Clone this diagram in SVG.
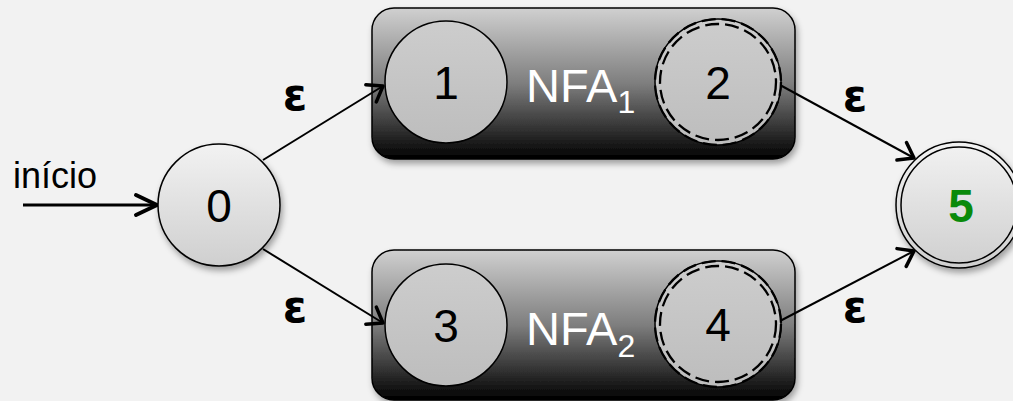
<svg xmlns="http://www.w3.org/2000/svg" width="1013" height="401" viewBox="0 0 1013 401">
  <defs>
    <linearGradient id="boxFill" x1="0" y1="0" x2="0" y2="1">
      <stop offset="0" stop-color="#d0d0d0"/>
      <stop offset="0.5" stop-color="#7e7e7e"/>
      <stop offset="1" stop-color="#000000"/>
    </linearGradient>
    <linearGradient id="outerState" x1="0" y1="0" x2="0" y2="1">
      <stop offset="0" stop-color="#f2f2f2"/>
      <stop offset="1" stop-color="#cfcfcf"/>
    </linearGradient>
    <linearGradient id="innerState" x1="0" y1="0" x2="0" y2="1">
      <stop offset="0" stop-color="#cdcdcd"/>
      <stop offset="1" stop-color="#bdbdbd"/>
    </linearGradient>
    <filter id="shadow" x="-20%" y="-20%" width="140%" height="150%">
      <feDropShadow dx="2" dy="4" stdDeviation="3" flood-color="#000" flood-opacity="0.35"/>
    </filter>
    <marker id="chev" markerUnits="userSpaceOnUse" orient="auto" viewBox="-20 -14 24 28" refX="0" refY="0" markerWidth="24" markerHeight="28" overflow="visible">
      <path d="M -14 -10 L 0 0 L -14 10" fill="none" stroke="#000" stroke-width="3.5" stroke-linecap="round" stroke-linejoin="round"/>
    </marker>
    <marker id="chevStart" markerUnits="userSpaceOnUse" orient="auto" viewBox="-26 -14 30 28" refX="0" refY="0" markerWidth="30" markerHeight="28" overflow="visible">
      <path d="M -21 -10 L 0 0 L -21 10" fill="none" stroke="#000" stroke-width="4" stroke-linecap="round" stroke-linejoin="round"/>
    </marker>
  </defs>
  <style>
    .box { fill: url(#boxFill); stroke: #000; stroke-width: 1.5; filter: url(#shadow); }
    .outer { fill: url(#outerState); stroke: #000; stroke-width: 1.5; filter: url(#shadow); }
    .inner { fill: url(#innerState); stroke: #000; stroke-width: 1.5; }
    .dash { fill: none; stroke: #000; stroke-width: 2.3; stroke-dasharray: 14 6; }
    .ring { fill: none; stroke: #000; stroke-width: 1.5; }
    .num { font-family: "Liberation Sans", Arial, sans-serif; font-size: 46px; text-anchor: middle; fill: #000; }
    .nfa { font-family: "Liberation Sans", Arial, sans-serif; font-size: 47px; fill: #fff; }
    .sub { font-size: 32px; }
    .eps { font-family: "DejaVu Sans", "Liberation Sans", sans-serif; font-size: 44px; font-weight: bold; text-anchor: middle; fill: #000; }
    .lbl { font-family: "Liberation Sans", Arial, sans-serif; font-size: 36px; fill: #000; }
    .edge { fill: none; stroke: #000; stroke-width: 2; marker-end: url(#chev); }
  </style>

  <rect width="1013" height="401" fill="#f2f2f2"/>

  <!-- sub-automaton containers -->
  <g id="nfa1">
    <rect class="box" x="372" y="8" width="423" height="151" rx="22"/>
    <text class="nfa" x="526" y="102">NFA<tspan class="sub" dy="11">1</tspan></text>
  </g>
  <g id="nfa2">
    <rect class="box" x="372" y="250" width="423" height="150" rx="22"/>
    <text class="nfa" x="526" y="345">NFA<tspan class="sub" dy="12">2</tspan></text>
  </g>

  <!-- connectors -->
  <g id="connectors">
    <line x1="23" y1="205" x2="157" y2="205" stroke="#000" stroke-width="3" marker-end="url(#chevStart)"/>
    <line class="edge" x1="263" y1="160" x2="383" y2="86"/>
    <line class="edge" x1="263" y1="249" x2="383" y2="323"/>
    <line class="edge" x1="780" y1="85" x2="914" y2="158"/>
    <line class="edge" x1="780" y1="321" x2="914" y2="251"/>
    <text class="eps" x="295" y="110">ε</text>
    <text class="eps" x="295" y="322">ε</text>
    <text class="eps" x="855" y="111">ε</text>
    <text class="eps" x="855" y="322">ε</text>
    <text class="lbl" x="13" y="188">início</text>
  </g>

  <!-- states -->
  <g id="state0">
    <circle class="outer" cx="219" cy="205" r="61"/>
    <text class="num" x="219" y="222">0</text>
  </g>
  <g id="state1">
    <circle class="inner" cx="446" cy="82" r="61"/>
    <text class="num" x="446" y="99">1</text>
  </g>
  <g id="state2">
    <circle class="inner" cx="718" cy="82" r="63" stroke="none"/>
    <circle class="dash" cx="718" cy="82" r="58"/>
    <circle class="dash" cx="718" cy="82" r="63"/>
    <text class="num" x="718" y="99">2</text>
  </g>
  <g id="state3">
    <circle class="inner" cx="446" cy="325" r="61"/>
    <text class="num" x="446" y="342">3</text>
  </g>
  <g id="state4">
    <circle class="inner" cx="718" cy="324" r="63" stroke="none"/>
    <circle class="dash" cx="718" cy="324" r="58"/>
    <circle class="dash" cx="718" cy="324" r="63"/>
    <text class="num" x="718" y="341">4</text>
  </g>
  <g id="state5">
    <circle class="outer" cx="959" cy="205" r="63"/>
    <circle class="ring" cx="959" cy="205" r="58"/>
    <text class="num" x="961" y="222" font-weight="bold" style="fill:#0a8a0a">5</text>
  </g>
</svg>
